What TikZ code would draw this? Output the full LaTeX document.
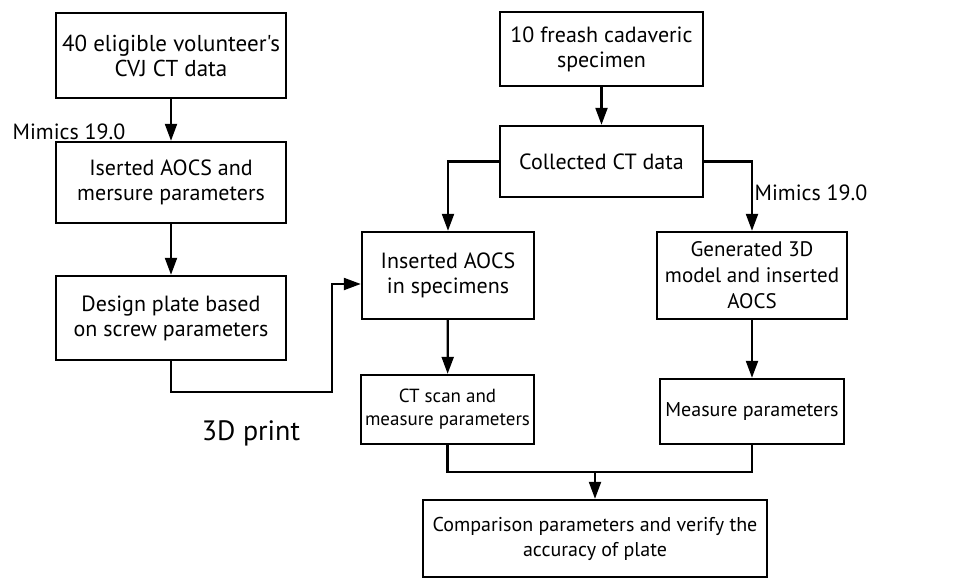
\documentclass[tikz,border=0pt]{standalone}
\usepackage{fontspec}
\setmainfont{PT Sans}[Ligatures=TeXOff]
\usetikzlibrary{arrows.meta}
\begin{document}
\begin{tikzpicture}[x=1pt,y=-1pt,
  box/.style={draw, line width=2.4pt, rectangle, align=center, inner sep=2pt, font=\fontsize{22}{25}\selectfont},
  smallbox/.style={box, font=\fontsize{19}{23}\selectfont},
  arr/.style={line width=2.2pt, -{Triangle[length=17pt,width=12pt]}},
  ln/.style={line width=2.2pt},
  lbl/.style={font=\fontsize{22}{24}\selectfont, inner sep=0pt}]
\useasboundingbox (0,0) rectangle (962,579);
\node[box, minimum width=230pt, minimum height=85pt, font=\fontsize{23}{25}\selectfont] (A) at (171,55.5) {40 eligible volunteer's\\CVJ CT data};
\node[box, minimum width=230pt, minimum height=81pt] (B) at (171,182.5) {Iserted AOCS and\\mersure parameters};
\node[box, minimum width=230pt, minimum height=84pt] (C) at (171,318) {Design plate based\\on screw parameters};
\node[box, minimum width=203pt, minimum height=74pt] (E) at (601.5,49) {10 freash cadaveric\\specimen};
\node[box, minimum width=203pt, minimum height=71pt] (F) at (601.5,161.5) {Collected CT data};
\node[box, minimum width=172pt, minimum height=87pt] (D) at (448,275.5) {Inserted AOCS\\in specimens};
\node[box, minimum width=190pt, minimum height=87pt, font=\fontsize{21}{26}\selectfont] (G) at (752,275.5) {Generated 3D\\model and inserted\\AOCS};
\node[smallbox, minimum width=173pt, minimum height=69pt] (H) at (447.5,409.5) {CT scan and\\measure parameters};
\node[smallbox, minimum width=184pt, minimum height=65pt, font=\fontsize{20}{23}\selectfont] (I) at (752,411.5) {Measure parameters};
\node[box, minimum width=344pt, minimum height=77pt, font=\fontsize{20}{25}\selectfont] (J) at (595,538.5) {Comparison parameters and verify the\\accuracy of plate};
\node[lbl] (m1) at (69,132) {Mimics 19.0};
\node[lbl] (m2) at (811,193) {Mimics 19.0};
\node[lbl, font=\fontsize{28}{30}\selectfont] (p3d) at (251,433) {3D print};
\coordinate (c1) at (171,392);
\coordinate (c2) at (332,392);
\coordinate (c3) at (332,284);
\coordinate (m) at (595,472);
\draw[arr] (A) -- (B);
\draw[arr] (B) -- (C);
\draw[arr] (C.south) -- (c1) -- (c2) -- (c3) -- (c3 -| D.west);
\draw[arr] (E) -- (F);
\draw[arr] (F.west) -| (D.north);
\draw[arr] (F.east) -| (G.north);
\draw[arr] (D) -- (H);
\draw[arr] (G) -- (I);
\draw[ln] (H.south) |- (m) -| (I.south);
\draw[arr] (m) -- (J.north);
\end{tikzpicture}
\end{document}
